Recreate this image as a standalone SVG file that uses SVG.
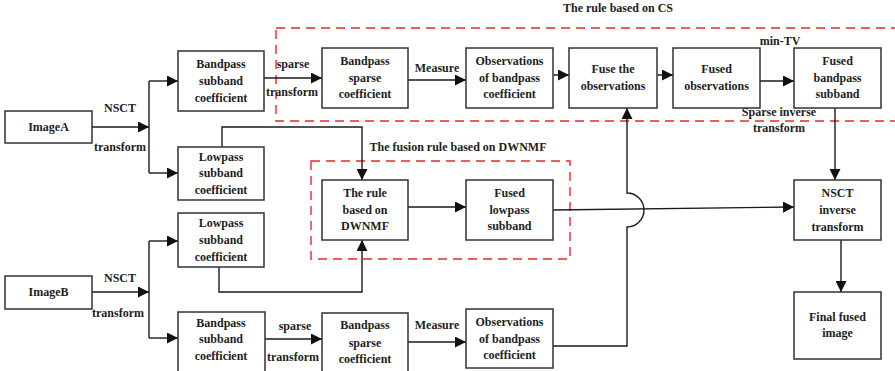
<svg xmlns="http://www.w3.org/2000/svg" width="895" height="371" viewBox="0 0 895 371">
<defs>
<marker id="arr" viewBox="0 0 10 10" refX="10" refY="5" markerWidth="11" markerHeight="11" markerUnits="userSpaceOnUse" orient="auto">
<path d="M0,0 L10,5 L0,10 z" fill="#111"/>
</marker>
</defs>
<style>
.box{fill:#fff;stroke:#333;stroke-width:1.5}
.t{font-family:"Liberation Serif","Times New Roman",serif;font-weight:bold;font-size:12px;fill:#1e1e1e;text-anchor:middle;dominant-baseline:central}
.c{fill:none;stroke:#1a1a1a;stroke-width:1.4}
.a{marker-end:url(#arr)}
.dash{fill:none;stroke:#e8282c;stroke-width:1.4;stroke-dasharray:9 6}
</style>
<rect width="895" height="371" fill="#fff"/>

<g id="groups">
<rect class="dash" x="276" y="28" width="640" height="93"/>
<rect class="dash" x="311" y="161" width="259" height="98"/>
<text class="t" x="618" y="8">The rule based on CS</text>
<text class="t" x="458" y="147">The fusion rule based on DWNMF</text>
</g>

<g id="connectors">
<path class="c a" d="M92,127 H149"/>
<path class="c" d="M149,81 V173"/>
<path class="c a" d="M149,81 H178"/>
<path class="c a" d="M149,173 H178"/>
<path class="c a" d="M92,292 H149"/>
<path class="c" d="M149,241 V338"/>
<path class="c a" d="M149,241 H178"/>
<path class="c a" d="M149,338 H178"/>
<path class="c a" d="M264,78 H322"/>
<path class="c a" d="M408,80 H466"/>
<path class="c a" d="M553,75 H569"/>
<path class="c a" d="M657,75 H673"/>
<path class="c a" d="M760,81 H794"/>
<path class="c a" d="M835,108 V180"/>
<path class="c a" d="M841,240 V292"/>
<path class="c a" d="M222,147 V127 H362 V180"/>
<path class="c a" d="M219,267 V292 H362 V240"/>
<path class="c a" d="M408,207 H466"/>
<path class="c a" d="M553,210 L794,207"/>
<path class="c a" d="M553,346 H627 V227 A17,17 0 0 0 627,193 V108"/>
<path class="c a" d="M264,339 H322"/>
<path class="c a" d="M408,342 H466"/>
<text class="t" x="120" y="108">NSCT</text>
<text class="t" x="120" y="147">transform</text>
<text class="t" x="120" y="278">NSCT</text>
<text class="t" x="118" y="313">transform</text>
<text class="t" x="293" y="64">sparse</text>
<text class="t" x="292" y="92">transform</text>
<text class="t" x="437" y="68">Measure</text>
<text class="t" x="780" y="41">min-TV</text>
<text class="t" x="779" y="112">Sparse inverse</text>
<text class="t" x="779" y="128">transform</text>
<text class="t" x="295" y="326">sparse</text>
<text class="t" x="293" y="357">transform</text>
<text class="t" x="437" y="325">Measure</text>
</g>

<g id="imageA"><rect class="box" x="5" y="111" width="87" height="32"/><text class="t" x="48.5" y="127">ImageA</text></g>
<g id="imageB"><rect class="box" x="5" y="276" width="87" height="33"/><text class="t" x="48.5" y="292">ImageB</text></g>

<g id="bandA"><rect class="box" x="178" y="51" width="86" height="60"/>
<text class="t" x="221" y="64">Bandpass</text><text class="t" x="221" y="81">subband</text><text class="t" x="221" y="98">coefficient</text></g>
<g id="lowA"><rect class="box" x="178" y="147" width="86" height="53"/>
<text class="t" x="221" y="157">Lowpass</text><text class="t" x="221" y="173">subband</text><text class="t" x="221" y="190">coefficient</text></g>
<g id="lowB"><rect class="box" x="178" y="213" width="86" height="54"/>
<text class="t" x="221" y="223">Lowpass</text><text class="t" x="221" y="240">subband</text><text class="t" x="221" y="257">coefficient</text></g>
<g id="bandB"><rect class="box" x="178" y="312" width="87" height="62"/>
<text class="t" x="221" y="323">Bandpass</text><text class="t" x="221" y="339">subband</text><text class="t" x="221" y="356">coefficient</text></g>

<g id="sparseA"><rect class="box" x="322" y="48" width="86" height="60"/>
<text class="t" x="365" y="61">Bandpass</text><text class="t" x="365" y="78">sparse</text><text class="t" x="365" y="94">coefficient</text></g>
<g id="obsA"><rect class="box" x="466" y="48" width="87" height="60"/>
<text class="t" x="509.5" y="61">Observations</text><text class="t" x="509.5" y="78">of bandpass</text><text class="t" x="509.5" y="94">coefficient</text></g>
<g id="fuseObs"><rect class="box" x="569" y="48" width="88" height="60"/>
<text class="t" x="613" y="69">Fuse the</text><text class="t" x="613" y="86">observations</text></g>
<g id="fusedObs"><rect class="box" x="673" y="48" width="87" height="60"/>
<text class="t" x="716.5" y="69">Fused</text><text class="t" x="716.5" y="86">observations</text></g>
<g id="fusedBand"><rect class="box" x="794" y="48" width="87" height="60"/>
<text class="t" x="837.5" y="61">Fused</text><text class="t" x="837.5" y="78">bandpass</text><text class="t" x="837.5" y="94">subband</text></g>

<g id="ruleDWNMF"><rect class="box" x="322" y="180" width="86" height="60"/>
<text class="t" x="365" y="193">The rule</text><text class="t" x="365" y="210">based on</text><text class="t" x="365" y="226">DWNMF</text></g>
<g id="fusedLow"><rect class="box" x="466" y="180" width="87" height="60"/>
<text class="t" x="509.5" y="193">Fused</text><text class="t" x="509.5" y="210">lowpass</text><text class="t" x="509.5" y="226">subband</text></g>

<g id="nsctInv"><rect class="box" x="794" y="180" width="87" height="60"/>
<text class="t" x="837.5" y="193">NSCT</text><text class="t" x="837.5" y="210">inverse</text><text class="t" x="837.5" y="227">transform</text></g>
<g id="final"><rect class="box" x="794" y="292" width="87" height="67"/>
<text class="t" x="837.5" y="317">Final fused</text><text class="t" x="837.5" y="333">image</text></g>

<g id="sparseB"><rect class="box" x="322" y="313" width="86" height="61"/>
<text class="t" x="365" y="325">Bandpass</text><text class="t" x="365" y="343">sparse</text><text class="t" x="365" y="359">coefficient</text></g>
<g id="obsB"><rect class="box" x="466" y="309" width="87" height="59"/>
<text class="t" x="509.5" y="322">Observations</text><text class="t" x="509.5" y="339">of bandpass</text><text class="t" x="509.5" y="355">coefficient</text></g>
</svg>
